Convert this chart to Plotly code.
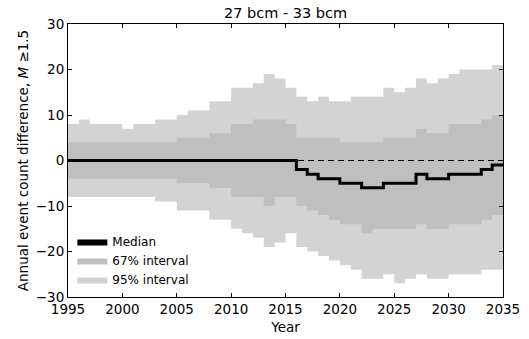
import plotly.graph_objects as go

# Annual event-count difference (M >= 1.5), one value per year 1995-2034
years = list(range(1995, 2035))

median = [0] * 21 + [-2, -3, -4, -4, -5, -5, -6, -6, -5, -5, -5, -3, -4, -4, -3, -3, -3, -2, -1]

upper67 = [4] * 10 + [5, 5, 5, 6, 6, 8, 8, 9, 9, 9, 8,
                      5, 5, 5, 5, 4, 4, 4, 4, 5, 5, 5, 7, 6, 6, 8, 8, 8, 9, 10]
lower67 = [-4] * 10 + [-5, -5, -5, -6, -6, -8, -8, -8, -10, -8, -8,
                       -10, -11, -12, -13, -14, -14, -16, -15, -15, -15, -15, -14, -15, -15, -14, -14, -14, -13, -12]

upper95 = [8, 9, 8, 8, 8, 7, 8, 8, 9, 9, 10, 11, 11, 13, 13, 16, 16, 17, 19, 18, 16,
           14, 13, 14, 13, 13, 14, 14, 14, 16, 15, 16, 18, 17, 18, 19, 20, 20, 20, 21]
lower95 = [-8] * 8 + [-9, -9, -11, -11, -11, -13, -13, -15, -16, -17, -19, -18, -16,
                      -19, -20, -21, -22, -23, -24, -26, -26, -25, -27, -26, -25, -26, -26, -25, -25, -25, -24, -24]

title_text = "27 bcm - 33 bcm"
x_label = "Year"
y_label = "Annual event count difference, <i>M</i> ≥1.5"
x_ticks = [1995, 2000, 2005, 2010, 2015, 2020, 2025, 2030, 2035]
y_ticks = [-30, -20, -10, 0, 10, 20, 30]

LIGHT = "#d3d3d3"
DARK = "#bfbfbf"
FONT = "DejaVu Sans"


def steps(vals):
    # close the last yearly bin at the following year
    return years + [years[-1] + 1], vals + [vals[-1]]


fig = go.Figure()

# 95% band
x, y = steps(lower95)
fig.add_trace(go.Scatter(x=x, y=y, mode="lines", line=dict(width=0, shape="hv"),
                         showlegend=False, hoverinfo="skip"))
x, y = steps(upper95)
fig.add_trace(go.Scatter(x=x, y=y, mode="lines", line=dict(width=0, shape="hv"),
                         fill="tonexty", fillcolor=LIGHT, name="95% interval",
                         legendrank=3))

# 67% band
x, y = steps(lower67)
fig.add_trace(go.Scatter(x=x, y=y, mode="lines", line=dict(width=0, shape="hv"),
                         showlegend=False, hoverinfo="skip"))
x, y = steps(upper67)
fig.add_trace(go.Scatter(x=x, y=y, mode="lines", line=dict(width=0, shape="hv"),
                         fill="tonexty", fillcolor=DARK, name="67% interval",
                         legendrank=2))

# median
x, y = steps(median)
fig.add_trace(go.Scatter(x=x, y=y, mode="lines", line=dict(color="black", width=3, shape="hv"),
                         showlegend=False))
# legend swatch for the median
fig.add_trace(go.Scatter(x=[None], y=[None], mode="lines", fill="toself", fillcolor="black",
                         line=dict(width=0), name="Median", legendrank=1))

fig.add_hline(y=0, line=dict(color="black", width=1, dash="6px,4px"))

axis_common = dict(showline=True, linecolor="black", linewidth=1, mirror="ticks",
                   ticks="inside", ticklen=4, tickcolor="black", showgrid=False,
                   zeroline=False, automargin=False,
                   tickfont=dict(family=FONT, size=13.5, color="black"))

fig.update_layout(
    width=529, height=339,
    margin=dict(l=68, r=26, t=24, b=42),
    paper_bgcolor="white", plot_bgcolor="white",
    font=dict(family=FONT, color="black"),
    title=dict(text=title_text, x=(68 + 503) / 2 / 529, xanchor="center",
               y=1 - 13 / 339, yanchor="middle", font=dict(size=14.5)),
    xaxis=dict(range=[1995, 2035], tickvals=x_ticks,
               title=dict(text=x_label, font=dict(size=13.5), standoff=6), **axis_common),
    yaxis=dict(range=[-30, 30], tickvals=y_ticks,
               title=dict(text=y_label, font=dict(size=13.5), standoff=4), **axis_common),
    legend=dict(x=0.01, y=0.011, xanchor="left", yanchor="bottom",
                bgcolor="rgba(0,0,0,0)", font=dict(family=FONT, size=12), traceorder="normal"),
    showlegend=True,
)

fig.write_html("out.html")
